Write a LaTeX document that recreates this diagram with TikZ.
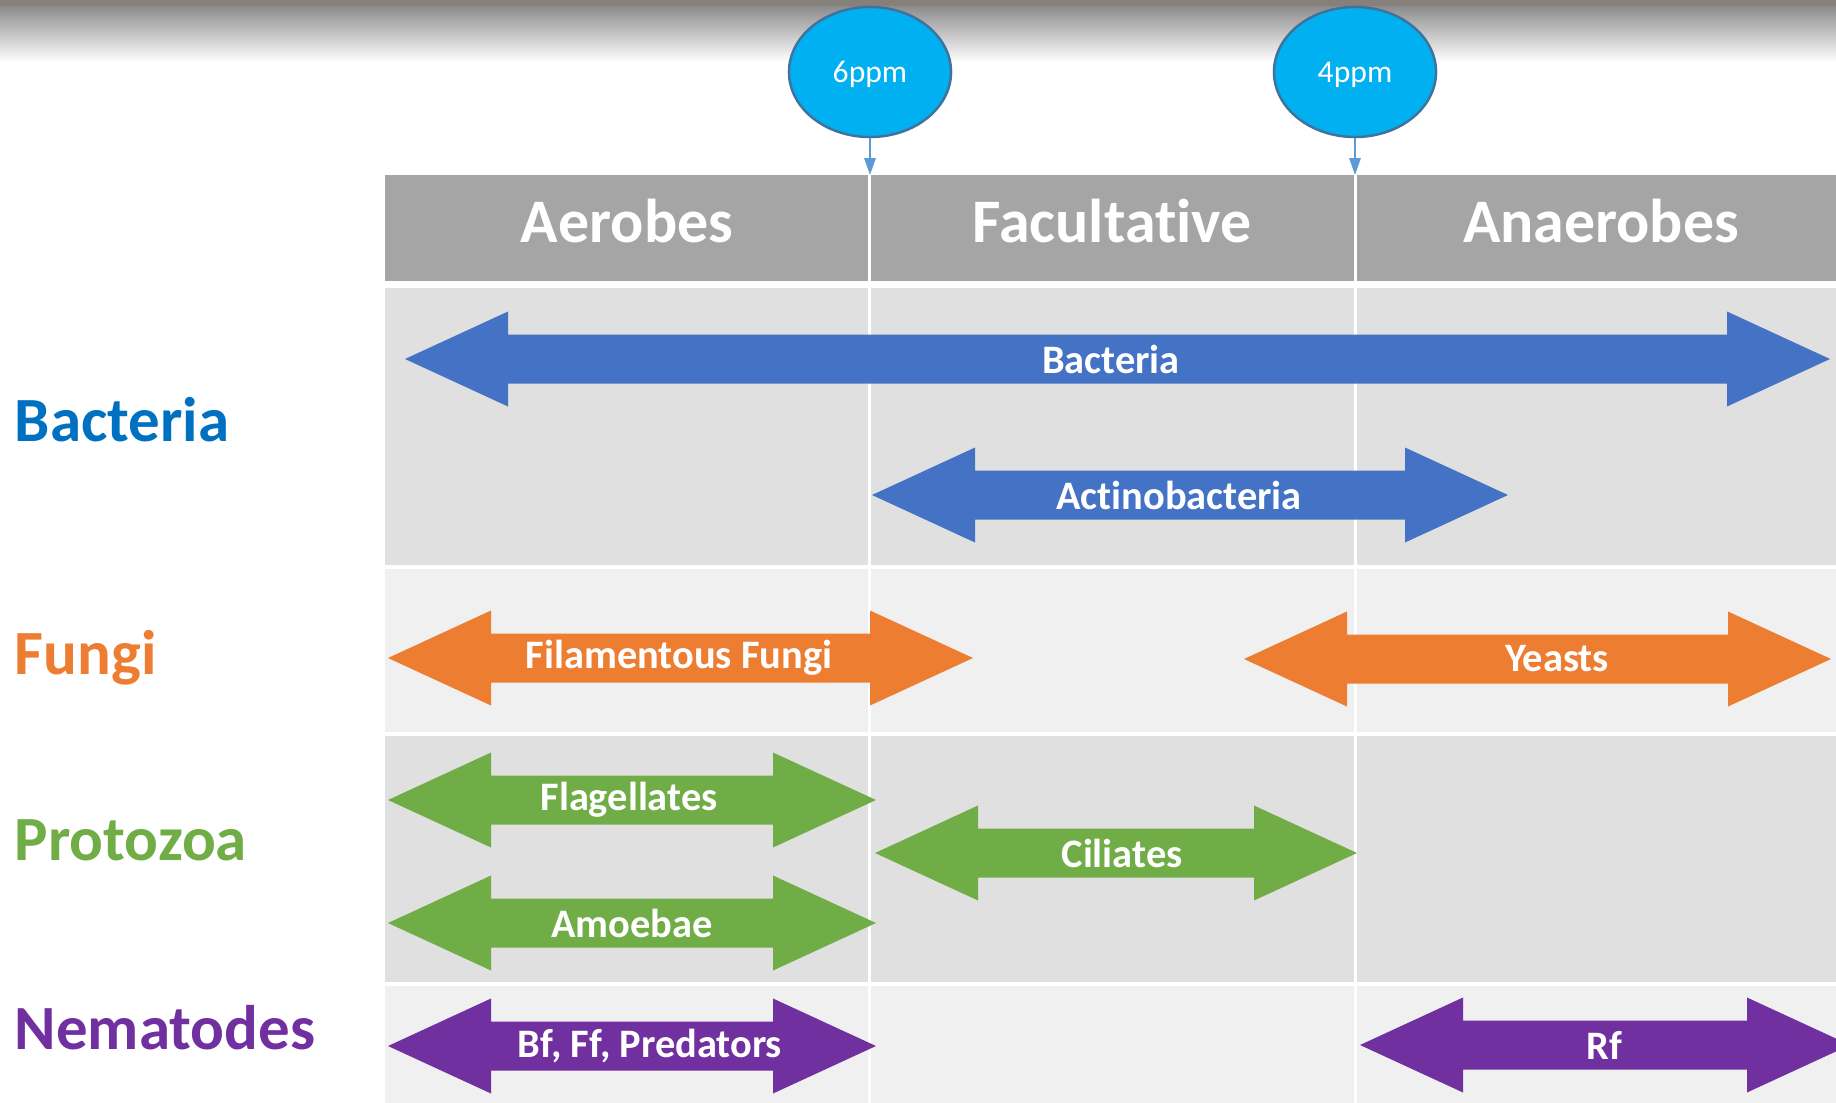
\documentclass[tikz,border=0pt]{standalone}
\usepackage{fontspec}
\setmainfont{Carlito}[Ligatures=NoCommon]
\usetikzlibrary{arrows.meta,shapes.geometric}

\definecolor{hdrgray}{HTML}{A5A5A5}
\definecolor{rowdark}{HTML}{E0E0E0}
\definecolor{rowlight}{HTML}{F0F0F0}
\definecolor{topgray}{HTML}{8C8C8C}
\definecolor{topband}{HTML}{86807A}
\definecolor{bacblue}{HTML}{4472C4}
\definecolor{labblue}{HTML}{0070C0}
\definecolor{fungorange}{HTML}{ED7D31}
\definecolor{protgreen}{HTML}{70AD47}
\definecolor{nempurple}{HTML}{7030A0}
\definecolor{ppmfill}{HTML}{00B0F0}
\definecolor{ppmline}{HTML}{41719C}
\definecolor{ppmarrow}{HTML}{5B9BD5}

\tikzset{
  arrowtext/.style={text=white, font=\fontsize{11.5}{13}\selectfont\bfseries, inner sep=0pt},
  headtext/.style={text=white, font=\fontsize{17.6}{20}\selectfont\bfseries, inner sep=0pt},
  grouptext/.style={font=\fontsize{17.9}{20}\selectfont\bfseries, inner sep=0pt, anchor=base west},
  ppmball/.style={ellipse, fill=ppmfill, draw=ppmline, line width=0.7pt, minimum width=1.62cm,
     minimum height=1.30cm, inner sep=0pt, text depth=0pt, text=white, font=\fontsize{9}{10}\selectfont},
  ppmconn/.style={draw=ppmarrow, line width=0.6pt, -{Triangle[width=3.2pt,length=4.8pt]}},
  divider/.style={white, line width=0.9pt}
}

% name, left tip, right tip, y, colour, label x, label
\newcommand{\spanarrow}[7]{%
  \fill[#5] (#2,#4) -- ({#2+103},{#4-47.5}) -- ({#2+103},{#4-24.5}) -- ({#3-103},{#4-24.5})
     -- ({#3-103},{#4-47.5}) -- (#3,#4) -- ({#3-103},{#4+47.5}) -- ({#3-103},{#4+24.5})
     -- ({#2+103},{#4+24.5}) -- ({#2+103},{#4+47.5}) -- cycle;
  \node[arrowtext] (#1) at (#6,#4) {#7};
}

\begin{document}
\begin{tikzpicture}[x=0.01cm, y=-0.01cm]

\useasboundingbox (0,0) rectangle (1836,1103);
\clip (0,0) rectangle (1836,1103);

% slide top
\shade[top color=topgray, bottom color=white] (0,6) rectangle (1836,62);
\fill[topband] (0,0) rectangle (1836,6);

% table
\fill[hdrgray] (385,175) rectangle (1850,281);
\foreach \ya/\yb/\clr in {288/565/rowdark, 569/732/rowlight, 736/982/rowdark, 986/1110/rowlight}{%
   \fill[\clr] (385,\ya) rectangle (1850,\yb);
}
\foreach \xd in {869.5,1355.5}{%
   \draw[divider] (\xd,175) -- (\xd,1110);
}

\node[headtext] (aer) at (627,221) {Aerobes};
\node[headtext] (fac) at (1112,221) {Facultative};
\node[headtext] (ana) at (1601,221) {Anaerobes};

% groups
\node[grouptext, text=labblue]    (gbac) at (14,441)  {Bacteria};
\node[grouptext, text=fungorange] (gfun) at (14,674)  {Fungi};
\node[grouptext, text=protgreen]  (gpro) at (14,860)  {Protozoa};
\node[grouptext, text=nempurple]  (gnem) at (14,1049) {Nematodes};

% ranges
\spanarrow{bac}{405}{1830}{359}{bacblue}{1111}{Bacteria}
\spanarrow{act}{872}{1508}{495}{bacblue}{1179}{Actinobacteria}
\spanarrow{fil}{388}{973}{658}{fungorange}{679}{Filamentous Fungi}
\spanarrow{yea}{1244}{1831}{659}{fungorange}{1557}{Yeasts}
\spanarrow{fla}{388}{876}{800}{protgreen}{629}{Flagellates}
\spanarrow{amo}{388}{876}{923}{protgreen}{632}{Amoebae}
\spanarrow{cil}{875}{1357}{853}{protgreen}{1122}{Ciliates}
\spanarrow{bff}{388}{876}{1046}{nempurple}{650}{Bf, Ff, Predators}
\spanarrow{rf}{1360}{1850}{1045}{nempurple}{1604}{Rf}

% oxygen marks
\node[ppmball] (p6) at (870,72)  {6ppm};
\node[ppmball] (p4) at (1355,72) {4ppm};
\coordinate (t6) at (870,175);
\coordinate (t4) at (1355,175);
\draw[ppmconn] (p6.south) -- (t6);
\draw[ppmconn] (p4.south) -- (t4);

\end{tikzpicture}
\end{document}
